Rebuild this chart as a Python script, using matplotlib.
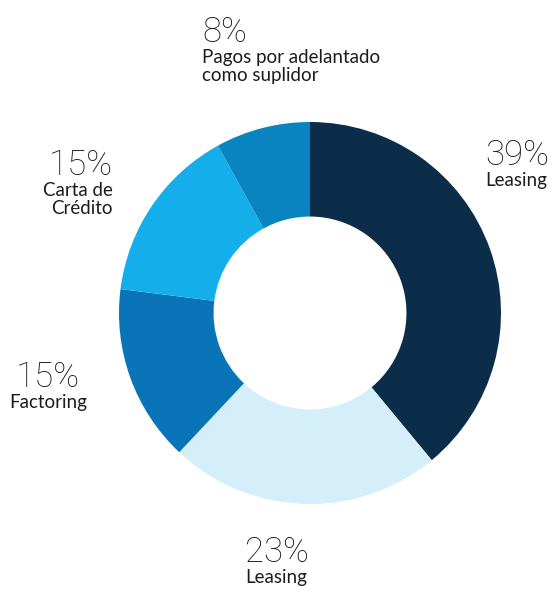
import matplotlib
matplotlib.use("Agg")
import matplotlib.pyplot as plt

# Shares of trade-finance instruments (percent), clockwise from 12 o'clock
categories = ["Leasing", "Leasing", "Factoring", "Carta de\nCrédito", "Pagos por adelantado\ncomo suplidor"]
values = [39, 23, 15, 15, 8]
pct_labels = ["39%", "23%", "15%", "15%", "8%"]
colors = ["#0b2d4a", "#d4eefa", "#0a74b8", "#14aeea", "#0a84c0"]

W, H = 554, 593
fig = plt.figure(figsize=(W / 100, H / 100), dpi=100)
ax = fig.add_axes([0, 0, 1, 1])

cx, cy, r = 310, H - 313, 191
ax.pie(values, colors=colors, startangle=90, counterclock=False,
       center=(cx, cy), radius=r, frame=True,
       wedgeprops=dict(width=r * 0.495, linewidth=0))
ax.set_xlim(0, W)
ax.set_ylim(0, H)
ax.set_aspect("equal")
ax.axis("off")

big_font = ["Roboto", "DejaVu Sans"]
font = ["Lato", "DejaVu Sans"]
big = 25
small = 13.5
ink = "#1c1c1c"

# (x, y of percent baseline, alignment) in pixel units from the top-left
placements = [
    (485, 165, "left"),
    (245, 562, "left"),
    (48, 387, "center"),
    (113, 175, "right"),
    (202, 42, "left"),
]
for (x, yb, ha), pct, name in zip(placements, pct_labels, categories):
    ax.text(x, H - yb, pct, ha=ha, va="baseline", fontsize=big,
            fontweight="light", family=big_font, color=ink)
    ax.text(x, H - yb - 7, name, ha=ha, va="top", fontsize=small,
            family=font, color=ink, linespacing=1.1, multialignment=ha)

fig.savefig("out.png", dpi=100, facecolor="white")
